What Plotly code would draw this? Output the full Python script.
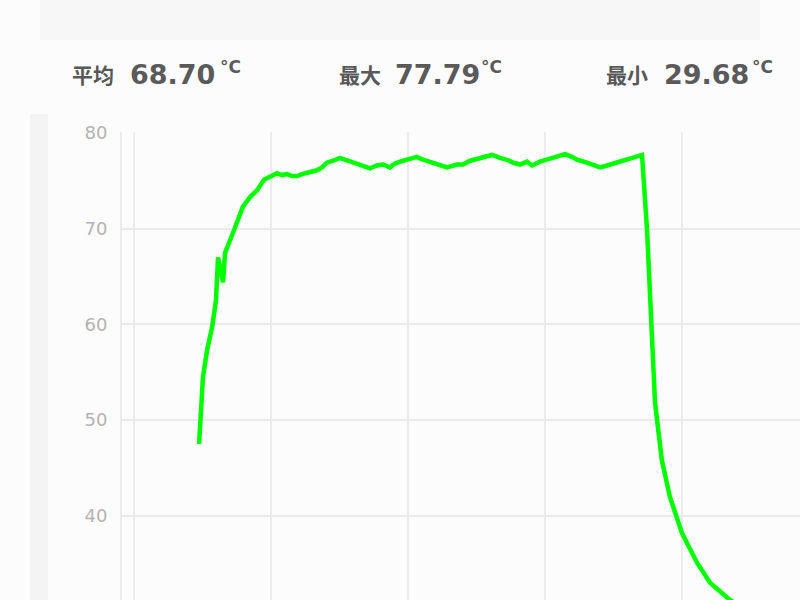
import plotly.graph_objects as go

# temperature trace (seconds from start, degrees C)
time_s = [28.5, 30.2, 32.0, 34.2, 35.9, 36.8, 39.0, 39.9, 43.4, 47.7, 50.8, 53.9, 56.9,
          59.6, 62.6, 64.8, 67.0, 69.2, 71.4, 73.6, 75.8, 78.0, 80.1, 82.3, 84.5, 87.2,
          90.2, 92.4, 94.6, 97.7, 100.3, 103.4, 106.4, 109.1, 112.1, 114.3, 116.5, 120.0,
          123.9, 126.6, 129.6, 134.0, 137.1, 141.5, 144.1, 147.2, 151.5, 156.8, 160.3,
          163.4, 166.0, 169.1, 172.1, 174.3, 177.8, 180.9, 183.5, 188.8, 191.8, 194.0,
          198.4, 201.9, 204.1, 207.2, 209.8, 212.9, 217.2, 222.5, 224.7, 226.9, 228.2,
          231.2, 234.7, 240.0, 246.6, 252.3, 261.0, 269.8, 278.5]
temp_c = [47.5, 54.5, 57.3, 59.7, 62.5, 67.0, 64.4, 67.5, 69.6, 72.3, 73.3, 74.0, 75.1,
          75.4, 75.8, 75.6, 75.7, 75.5, 75.5, 75.7, 75.8, 75.9, 76.1, 76.4, 76.9, 77.1,
          77.4, 77.2, 77.0, 76.8, 76.6, 76.3, 76.6, 76.7, 76.4, 76.8, 77.0, 77.2,
          77.5, 77.2, 77.0, 76.7, 76.4, 76.7, 76.7, 77.1, 77.4, 77.7, 77.4,
          77.2, 76.9, 76.7, 77.0, 76.6, 77.0, 77.2, 77.4, 77.79, 77.5, 77.2,
          76.9, 76.6, 76.4, 76.6, 76.8, 77.0, 77.3, 77.7, 69.9, 59.4, 51.8,
          45.8, 42.0, 38.2, 35.1, 33.0, 31.2, 30.0, 29.68]

# summary stats shown above the chart
stat_labels = ['平均', '最大', '最小']
stat_values = ['68.70', '77.79', '29.68']
stat_unit = '°C'

W, H = 800, 600
M_L, M_T = 122, 132


def px_x(x):
    return (x - M_L) / (W - M_L)


def px_y(y):
    return (H - y) / (H - M_T)


fig = go.Figure()

fig.add_trace(go.Scatter(
    x=time_s,
    y=temp_c,
    mode='lines',
    line=dict(color='#00ff00', width=4.5),
    hoverinfo='skip',
    showlegend=False
))

# header card and left strip
fig.add_shape(type='rect', xref='paper', yref='paper', layer='below',
              x0=px_x(40), x1=px_x(760), y0=px_y(40), y1=px_y(-10),
              line=dict(width=0), fillcolor='#f7f7f7')
fig.add_shape(type='rect', xref='paper', yref='paper', layer='below',
              x0=px_x(30), x1=px_x(48), y0=px_y(610), y1=px_y(114),
              line=dict(width=0), fillcolor='#f4f4f4')

label_x = [70, 337, 604]
value_x = [128, 393, 662]
unit_x = [218, 479, 750]
for lab, val, lx, vx, ux in zip(stat_labels, stat_values, label_x, value_x, unit_x):
    fig.add_annotation(text=f'<b>{lab}</b>', x=px_x(lx), y=px_y(74), xref='paper', yref='paper',
                       xanchor='left', yanchor='middle', showarrow=False,
                       font=dict(family='Noto Sans CJK SC', size=21, color='#585858'))
    fig.add_annotation(text=f'<b>{val}</b>', x=px_x(vx), y=px_y(74), xref='paper', yref='paper',
                       xanchor='left', yanchor='middle', showarrow=False,
                       font=dict(family='DejaVu Sans', size=27, color='#5a5a5a'))
    fig.add_annotation(text=f'<b>{stat_unit}</b>', x=px_x(ux), y=px_y(67), xref='paper', yref='paper',
                       xanchor='left', yanchor='middle', showarrow=False,
                       font=dict(family='DejaVu Sans', size=17, color='#5a5a5a'))

fig.update_layout(
    width=W,
    height=H,
    margin=dict(l=M_L, r=0, t=M_T, b=0),
    paper_bgcolor='#fcfcfc',
    plot_bgcolor='#fcfcfc',
    xaxis=dict(
        range=[-5.26, 291.7],
        tick0=0, dtick=60,
        showgrid=True, gridcolor='#ebebeb', gridwidth=2,
        showticklabels=False, zeroline=False, showline=False
    ),
    yaxis=dict(
        range=[31.2, 80.1],
        tick0=0, dtick=10,
        showgrid=True, gridcolor='#ebebeb', gridwidth=2,
        zeroline=False,
        showline=True, linecolor='#ebebeb', linewidth=2,
        ticks='', ticklabelstandoff=9,
        tickfont=dict(family='DejaVu Sans', size=18, color='#b3b3b3')
    )
)

# page body has an 8px default margin; drop it so the figure sits at 0,0
fig.write_html('out.html', config={'displayModeBar': False},
               post_script="document.body.style.margin='0';")
